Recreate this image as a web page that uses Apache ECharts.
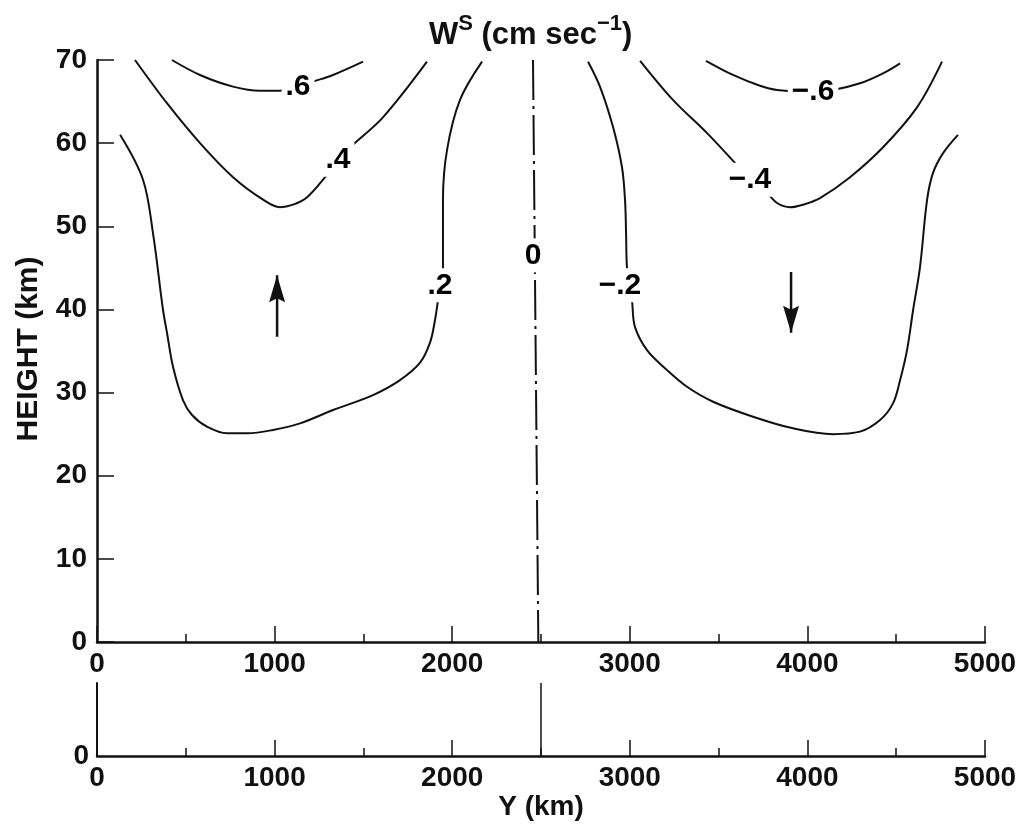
<!DOCTYPE html>
<html>
<head>
<meta charset="utf-8">
<script src="https://cdn.jsdelivr.net/npm/echarts@6/dist/echarts.min.js"></script>
<style>
html,body{margin:0;padding:0;background:#fff;}
#c{width:1021px;height:827px;}
</style>
</head>
<body>
<div id="c"></div>
<script>
// ---- data (Y in km, height in km) ----
const xTicks = [0, 1000, 2000, 3000, 4000, 5000];
const heightTicks = [0, 10, 20, 30, 40, 50, 60, 70];

const contourPos02 = [[130,61.0],[259,55.6],[315,49.2],[372,39.9],[394,37.2],[428,33.1],[484,29.1],[535,27.3],[619,25.9],[732,25.1],[845,25.1],[991,25.5],[1143,26.3],[1329,27.9],[1554,29.7],[1706,31.5],[1819,33.6],[1875,36.0],[1903,38.7],[1920,41.1],[1948,45.1],[1948,53.2],[1971,59.2],[2044,65.2],[2168,69.8]];
const contourPos04 = [[214,70.0],[394,64.8],[580,60.0],[766,55.9],[935,53.2],[1030,52.3],[1104,52.6],[1183,53.5],[1284,55.9],[1357,58.0],[1441,59.8],[1610,63.1],[1858,69.8]];
const contourPos06 = [[422,70.0],[580,68.2],[766,66.8],[918,66.3],[1030,66.3],[1132,66.8],[1216,67.4],[1329,68.2],[1498,69.8]];
const contourZero = [[2455,70],[2485,0]];
const contourNeg02 = [[2765,69.8],[2832,66.8],[2906,61.9],[2956,57.1],[2973,53.2],[2979,49.2],[2984,45.1],[3000,42.9],[3013,40.9],[3029,37.9],[3097,35.1],[3210,32.7],[3322,30.7],[3469,28.9],[3694,27.1],[3919,25.7],[4144,25.0],[4296,25.3],[4409,26.7],[4482,28.7],[4522,31.5],[4561,35.1],[4595,39.9],[4634,45.1],[4674,53.2],[4707,56.4],[4764,58.8],[4848,61.0]];
const contourNeg04 = [[3058,69.9],[3243,65.2],[3435,61.2],[3593,57.6],[3677,55.6],[3773,54.0],[3829,52.8],[3902,52.3],[3975,52.6],[4071,53.4],[4240,55.9],[4426,59.5],[4617,64.3],[4758,69.8]];
const contourNeg06 = [[3429,69.9],[3581,68.2],[3733,66.9],[3829,66.4],[4032,66.2],[4144,66.4],[4296,67.2],[4426,68.4],[4522,69.6]];

const contourLabels = [[1132,66.8,'.6'],[1357,58.0,'.4'],[1931,42.9,'.2'],[2455,46.5,'0'],[2945,42.9,'\u2212.2'],[3677,55.6,'\u2212.4'],[4032,66.2,'\u2212.6']];
const arrowUp = [[1014,36.7],[1014,44.1]];
const arrowDown = [[3908,44.5],[3908,37.2]];
const lowerPanelLine = [[2500,0],[2500,10]];

const FONT = '"Liberation Sans",Arial,sans-serif';

const chart = echarts.init(document.getElementById('c'));

function axisX(gridIndex, withName){
  return {
    type:'value', gridIndex, min:0, max:5000, interval:1000,
    axisLine:{show:true,onZero:false,lineStyle:{color:'#111',width:2.5}},
    axisTick:{show:true,inside:true,length:16,lineStyle:{color:'#111',width:1.5}},
    minorTick:{show:true,splitNumber:2,length:8,lineStyle:{color:'#111',width:1.5}},
    splitLine:{show:false},
    axisLabel:{color:'#111',fontFamily:FONT,fontWeight:'bold',fontSize:28,margin:8,
      formatter:v=>String(v)},
    name: withName ? 'Y (km)' : '',
    nameLocation:'middle', nameGap:34,
    nameTextStyle:{color:'#111',fontFamily:FONT,fontWeight:'bold',fontSize:28}
  };
}

const lineStyleC = {color:'#111',width:2};
function contour(data){
  return {type:'line',xAxisIndex:0,yAxisIndex:0,data,smooth:0.35,showSymbol:false,symbol:'none',
    lineStyle:lineStyleC,silent:true,z:2};
}
const HEAD_UP = 'path://M8,0 L16,27 L8,23 L0,27 Z';
const HEAD_DOWN = 'path://M8,27 L16,0 L8,4 L0,0 Z';

const option = {
  animation:false,
  backgroundColor:'#fff',
  title:{
    text:'{a|W}{s|S}{a| (cm sec}{s|\u22121}{a|)}',
    left:424, top:8,
    textStyle:{rich:{
      a:{fontFamily:FONT,fontWeight:'bold',fontSize:31,color:'#111',verticalAlign:'bottom'},
      s:{fontFamily:FONT,fontWeight:'bold',fontSize:22,color:'#111',verticalAlign:'top',padding:[0,0,16,0]}
    }}
  },
  graphic:[{
    type:'text', x:29, y:349, rotation:Math.PI/2,
    style:{text:'HEIGHT (km)',fontFamily:FONT,fontWeight:'bold',fontSize:30,fill:'#111',
      align:'center',verticalAlign:'middle'}
  }],
  grid:[
    {left:97,top:60,width:888,height:582,containLabel:false},
    {left:97,top:683,width:888,height:73,containLabel:false}
  ],
  xAxis:[axisX(0,false),axisX(1,true)],
  yAxis:[
    {type:'value',gridIndex:0,min:0,max:70,interval:10,
      axisLine:{show:true,onZero:false,lineStyle:{color:'#111',width:2.5}},
      axisTick:{show:true,inside:true,length:17,lineStyle:{color:'#111',width:1.5}},
      splitLine:{show:false},
      axisLabel:{color:'#111',fontFamily:FONT,fontWeight:'bold',fontSize:28,margin:10}},
    {type:'value',gridIndex:1,min:0,max:10,interval:10,
      axisLine:{show:true,onZero:false,lineStyle:{color:'#111',width:2}},
      axisTick:{show:false},splitLine:{show:false},
      axisLabel:{color:'#111',fontFamily:FONT,fontWeight:'bold',fontSize:28,margin:8,
        formatter:v=> v===0 ? '0' : ''}}
  ],
  series:[
    contour(contourPos02),contour(contourPos04),contour(contourPos06),
    contour(contourNeg02),contour(contourNeg04),contour(contourNeg06),
    {type:'line',xAxisIndex:0,yAxisIndex:0,data:contourZero,showSymbol:false,symbol:'none',
      lineStyle:{color:'#111',width:2,type:[40,6,3,6]},z:2},
    {type:'line',xAxisIndex:1,yAxisIndex:1,data:lowerPanelLine,showSymbol:false,symbol:'none',
      lineStyle:{color:'#111',width:1.5},z:2},
    {type:'scatter',xAxisIndex:0,yAxisIndex:0,symbol:'circle',symbolSize:1,z:5,
      itemStyle:{color:'#fff',opacity:1},
      data:contourLabels.map(d=>({value:[d[0],d[1]],name:d[2]})),
      label:{show:true,position:'inside',formatter:p=>p.name,color:'#000',fontFamily:FONT,
        fontWeight:'bold',fontSize:30,backgroundColor:'#fff',padding:[2,4],
        textBorderWidth:0,opacity:1}},
    // arrow shafts
    {type:'line',xAxisIndex:0,yAxisIndex:0,data:arrowUp,showSymbol:false,symbol:'none',
      lineStyle:{color:'#111',width:2.5},z:4},
    {type:'line',xAxisIndex:0,yAxisIndex:0,data:arrowDown,showSymbol:false,symbol:'none',
      lineStyle:{color:'#111',width:2.5},z:4},
    // arrow heads (tip at the last point of each arrow)
    {type:'scatter',xAxisIndex:0,yAxisIndex:0,z:5,silent:true,
      data:[{value:arrowUp[1],symbol:HEAD_UP,symbolOffset:[0,'50%']},
            {value:arrowDown[1],symbol:HEAD_DOWN,symbolOffset:[0,'-50%']}],
      symbolSize:[16,27],itemStyle:{color:'#111',opacity:1}}
  ]
};
chart.setOption(option);
</script>
</body>
</html>
